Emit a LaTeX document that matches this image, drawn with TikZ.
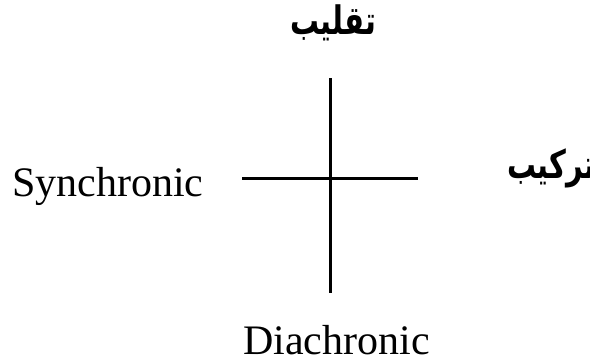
\documentclass[tikz,border=0pt]{standalone}
\usepackage{fontspec}
\usepackage{graphicx}
\setmainfont{Liberation Serif}
\newfontfamily\arabicfont[Script=Arabic]{DejaVu Sans}
\TeXXeTstate=1
\newcommand{\arword}[1]{\scalebox{1.03}[1.4]{\beginR #1\endR}}
\begin{document}
\begin{tikzpicture}[x=1pt,y=1pt,
  lat/.style={font=\fontsize{42}{48}\selectfont, inner sep=0pt, anchor=base west},
  ar/.style={font=\arabicfont\bfseries\fontsize{28}{32}\selectfont, inner sep=0pt, anchor=base},
  axisline/.style={line width=3pt}]
\useasboundingbox (0,0) rectangle (590,360);
\node[lat] (syn) at (12,164) {Synchronic};
\node[lat] (dia) at (243,6) {Diachronic};
\node[ar] (top) at (333,326) {\arword{تقليب}};
\node[ar, anchor=base west] (right) at (507,182) {\arword{تركيب}};
\coordinate (vt) at (330,282);
\coordinate (vb) at (330,67);
\coordinate (hl) at (242,182);
\coordinate (hr) at (418,182);
\draw[axisline] (vt) -- (vb);
\draw[axisline] (hl) -- (hr);
\end{tikzpicture}
\end{document}
